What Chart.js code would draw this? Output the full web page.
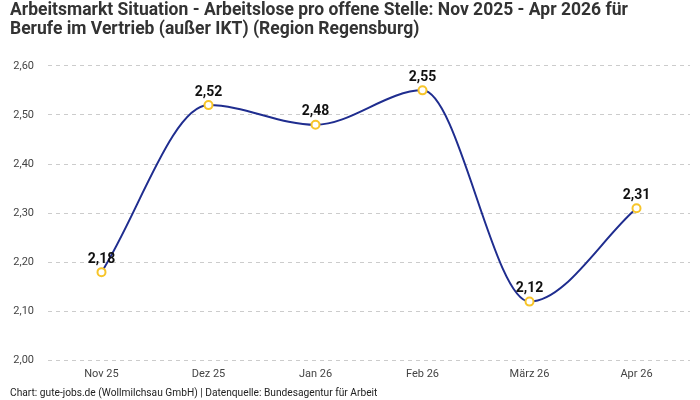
<!DOCTYPE html>
<html lang="de"><head>
<meta charset="utf-8"/>
<title>Arbeitsmarkt Situation</title>
<script src="https://cdn.jsdelivr.net/npm/chart.js"></script>
<style>
        html, body { margin: 0; padding: 0; background: #fff; }
        #wrap { width: 700px; height: 400px; position: relative; }
    </style>
</head>
<body>
<div id="wrap"><canvas id="lineChart" width="700" height="400"></canvas></div>
<script>
        const categories = ['Nov 25', 'Dez 25', 'Jan 26', 'Feb 26', 'März 26', 'Apr 26'];
        const ratioValues = [2.18, 2.52, 2.48, 2.55, 2.12, 2.31];
        const yTicks = [2.0, 2.1, 2.2, 2.3, 2.4, 2.5, 2.6];

        const fmt = v => v.toFixed(2).replace('.', ',');
        const fontFamily = "'Roboto', 'Noto Sans', sans-serif";

        // simple value labels above the points
        const valueLabels = {
            id: 'valueLabels',
            afterDatasetsDraw(chart) {
                const ctx = chart.ctx;
                const meta = chart.getDatasetMeta(0);
                ctx.save();
                ctx.font = 'bold 14px ' + fontFamily;
                ctx.fillStyle = '#111';
                ctx.textAlign = 'center';
                ctx.textBaseline = 'bottom';
                meta.data.forEach((pt, i) => {
                    ctx.fillText(fmt(ratioValues[i]), pt.x, pt.y - 6);
                });
                ctx.restore();
            }
        };

        const ctx = document.getElementById('lineChart').getContext('2d');
        new Chart(ctx, {
            type: 'line',
            data: {
                labels: categories,
                datasets: [{
                    data: ratioValues,
                    borderColor: '#1f2d8f',
                    borderWidth: 2,
                    cubicInterpolationMode: 'monotone',
                    fill: false,
                    pointRadius: 4,
                    pointBorderWidth: 2,
                    pointBackgroundColor: '#fff',
                    pointBorderColor: '#f7c52a'
                }]
            },
            options: {
                responsive: false,
                animation: false,
                layout: { padding: { left: 10, right: 10, top: 0, bottom: 0 } },
                scales: {
                    x: {
                        offset: true,
                        grid: { display: false, drawTicks: false },
                        border: { display: false },
                        ticks: { color: '#444', font: { family: fontFamily, size: 11 }, padding: 7, maxRotation: 0 }
                    },
                    y: {
                        min: 2.0,
                        max: 2.6,
                        afterBuildTicks: axis => { axis.ticks = yTicks.map(v => ({ value: v })); },
                        afterFit: axis => { axis.width = 38; },
                        grid: { color: '#cccccc', drawTicks: false, borderDash: [4, 4] },
                        border: { display: false, dash: [4, 4] },
                        ticks: {
                            color: '#444',
                            font: { family: fontFamily, size: 11 },
                            padding: 14,
                            callback: v => fmt(v)
                        }
                    }
                },
                plugins: {
                    legend: { display: false },
                    tooltip: { enabled: false },
                    title: {
                        display: true,
                        align: 'start',
                        text: ['Arbeitsmarkt Situation - Arbeitslose pro offene Stelle: Nov 2025 - Apr 2026 für',
                               'Berufe im Vertrieb (außer IKT) (Region Regensburg)'],
                        color: '#333',
                        font: { family: fontFamily, size: 17.5, weight: 'bold', lineHeight: 1.08 },
                        padding: { top: 1, bottom: 27 }
                    },
                    subtitle: {
                        display: true,
                        position: 'bottom',
                        align: 'start',
                        text: 'Chart: gute-jobs.de (Wollmilchsau GmbH) | Datenquelle: Bundesagentur für Arbeit',
                        color: '#222',
                        font: { family: fontFamily, size: 10.2 },
                        padding: { top: 0, bottom: 0 }
                    }
                }
            },
            plugins: [valueLabels]
        });
    </script>
</body></html>
